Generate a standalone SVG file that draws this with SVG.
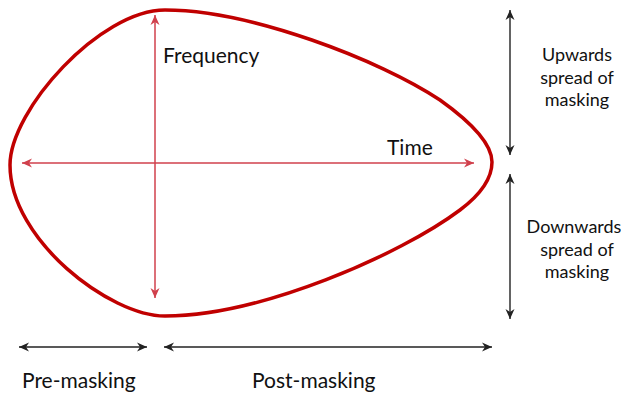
<svg xmlns="http://www.w3.org/2000/svg" width="621" height="398" viewBox="0 0 621 398">
<style>
  text { font-family: Lato, "Open Sans", "Liberation Sans", sans-serif; fill: #111; }
  .big { font-size: 21px; }
  .mid { font-size: 21px; }
  .sm { font-size: 18px; text-anchor: middle; }
  .red { stroke: #d0404c; stroke-width: 1.5; fill: none; }
  .blk { stroke: #222; stroke-width: 1.4; fill: none; }
</style>
<defs>
  <marker id="ar" markerWidth="12" markerHeight="10" refX="10" refY="5" orient="auto-start-reverse" markerUnits="userSpaceOnUse">
    <path d="M0,0.5 L10,5 L0,9.5 L3,5 Z" fill="#d0404c"/>
  </marker>
  <marker id="ab" markerWidth="12" markerHeight="10" refX="10" refY="5" orient="auto-start-reverse" markerUnits="userSpaceOnUse">
    <path d="M0,0.5 L10,5 L0,9.5 L3,5 Z" fill="#222"/>
  </marker>
</defs>
<g id="curve">
  <path d="M165,10 C250,10 380,60 440,100 C475,125 492,145 492,162 C492,180 480,195 460,210 C400,255 260,316 165,316 C110,316 10,240 10,165 C10,110 100,10 165,10 Z" fill="none" stroke="#c00000" stroke-width="3.5"/>
</g>
<g id="connectors">
  <line class="red" x1="155" y1="298" x2="155" y2="15" marker-start="url(#ar)" marker-end="url(#ar)"/>
  <line class="red" x1="22" y1="163" x2="474" y2="163" marker-start="url(#ar)" marker-end="url(#ar)"/>
  <line class="blk" x1="510" y1="10" x2="510" y2="155" marker-start="url(#ab)" marker-end="url(#ab)"/>
  <line class="blk" x1="510" y1="174" x2="510" y2="319" marker-start="url(#ab)" marker-end="url(#ab)"/>
  <line class="blk" x1="19" y1="347" x2="147" y2="347" marker-start="url(#ab)" marker-end="url(#ab)"/>
  <line class="blk" x1="164" y1="347" x2="492" y2="347" marker-start="url(#ab)" marker-end="url(#ab)"/>
</g>
<g id="label-frequency"><text class="big" x="163" y="63">Frequency</text></g>
<g id="label-time"><text class="big" x="387" y="155">Time</text></g>
<g id="label-upwards">
  <text class="sm" x="577" y="61">Upwards</text>
  <text class="sm" x="577" y="84">spread of</text>
  <text class="sm" x="577" y="106">masking</text>
</g>
<g id="label-downwards">
  <text class="sm" x="574" y="233">Downwards</text>
  <text class="sm" x="577" y="256">spread of</text>
  <text class="sm" x="577" y="278">masking</text>
</g>
<g id="label-pre"><text class="mid" x="22" y="388">Pre-masking</text></g>
<g id="label-post"><text class="mid" x="252" y="388">Post-masking</text></g>
</svg>
